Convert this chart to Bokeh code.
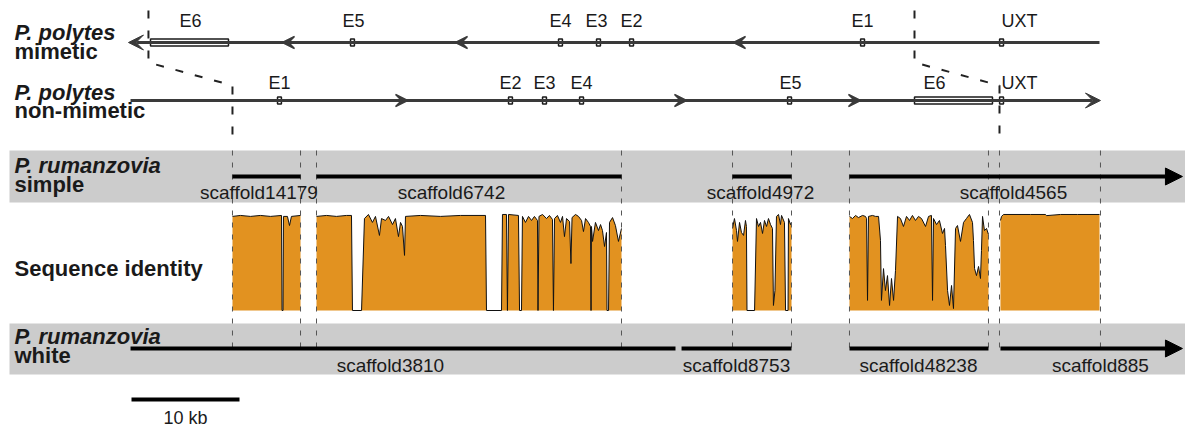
from bokeh.plotting import figure
from bokeh.models import Range1d, ColumnDataSource, Arrow, VeeHead, NormalHead
from bokeh.core.properties import value
from bokeh.embed import file_html
from bokeh.resources import INLINE

# ------------------------------------------------------------------
# DATA  (genomic positions in kb, identity in %)
# ------------------------------------------------------------------
scale_bar_kb = 10
scale_bar_label = "10 kb"

# P. polytes mimetic (reverse strand)
mim_names = ["E6", "E5", "E4", "E3", "E2", "E1", "UXT"]
mim_start = [1.76, 20.28, 39.54, 43.06, 46.12, 67.51, 80.38]
mim_end = [8.98, 20.64, 39.90, 43.42, 46.48, 67.87, 80.74]
mim_label_x = [5.46, 20.56, 39.72, 43.06, 46.30, 67.69, 82.22]
mim_line = [89.63, -0.28]          # from -> arrow tip
mim_strand_marks = [13.98, 30.00, 55.74]

# P. polytes non-mimetic (forward strand)
non_names = ["E1", "E2", "E3", "E4", "E5", "E6", "UXT"]
non_start = [13.52, 34.91, 38.06, 41.49, 60.75, 72.50, 80.38]
non_end = [13.88, 35.27, 38.42, 41.85, 61.11, 79.72, 80.74]
non_label_x = [13.70, 35.09, 38.24, 41.67, 61.02, 74.35, 82.22]
non_line = [-0.09, 89.72]
non_strand_marks = [25.56, 51.39, 67.50]

# inversion breakpoints linking the two P. polytes tracks
brk_left = [1.57, 1.57, 9.35, 9.35]
brk_right = [72.50, 72.50, 80.37, 80.37]

# alignment block boundaries
align_bounds = [9.35, 15.65, 17.13, 45.37, 55.65, 61.11, 66.48, 79.35, 80.37, 89.72]

# P. rumanzovia simple scaffolds
simple_names = ["scaffold14179", "scaffold6742", "scaffold4972", "scaffold4565"]
simple_start = [9.35, 17.13, 55.65, 66.48]
simple_end = [15.65, 45.37, 61.11, 97.31]
simple_label_x = [11.80, 29.63, 58.24, 81.67]
simple_arrow = [False, False, False, True]

# P. rumanzovia white scaffolds
white_names = ["scaffold3810", "scaffold8753", "scaffold48238", "scaffold885"]
white_start = [-0.09, 50.93, 66.48, 80.46]
white_end = [50.37, 61.11, 79.35, 97.31]
white_label_x = [23.98, 56.02, 72.87, 89.72]
white_arrow = [False, False, False, True]

# sequence identity profiles (one list per aligned region)
ident_pos_a = [9.35, 10.09, 11.02, 11.94, 12.87, 13.89, 13.94, 14.03, 14.07, 14.44, 14.63, 14.81, 15.65]
ident_val_a = [98.5, 99.0, 98.5, 99.0, 98.5, 99.0, 50, 50, 98.5, 98.5, 93.8, 98.5, 99.0]

ident_pos_b = [17.13, 18.06, 18.98, 19.91, 20.37, 20.46, 21.30, 21.57, 21.94, 22.31, 22.59, 22.96,
               23.15, 23.52, 23.80, 24.17, 24.44, 24.72, 24.91, 25.09, 25.28, 25.37, 26.76, 28.61,
               30.46, 32.78, 32.87, 34.26, 34.35, 34.72, 34.81, 34.91, 35.83, 35.93, 36.11, 36.20,
               36.48, 36.76, 37.04, 37.31, 37.59, 37.64, 37.73, 38.06, 38.43, 38.70, 38.98, 39.07,
               39.17, 39.44, 39.72, 39.91, 40.09, 40.28, 40.56, 40.69, 40.79, 41.11, 41.39, 41.67,
               41.85, 42.04, 42.31, 42.50, 42.55, 42.59, 42.69, 42.96, 43.24, 43.43, 43.61, 43.80,
               43.98, 44.03, 44.17, 44.26, 44.54, 44.81, 45.09, 45.37]
ident_val_b = [98.5, 99.0, 98.5, 99.0, 99.0, 50, 50, 97.4, 99.5, 95.4, 98.5, 88.7,
               97.4, 96.4, 98.5, 94.3, 97.4, 88.1, 95.4, 93.3, 78.4, 98.5, 99.0, 98.5,
               99.0, 99.0, 50, 50, 99.5, 99.5, 50, 99.5, 99.0, 50, 50, 98.5,
               95.4, 98.5, 96.4, 98.5, 96.4, 50, 98.5, 99.5, 97.4, 99.0, 96.9, 50,
               97.4, 99.0, 95.4, 98.5, 88.1, 97.4, 95.9, 74.2, 97.9, 99.5, 98.5, 96.4,
               90.7, 97.4, 95.4, 93.3, 50, 93.3, 85.6, 95.4, 91.2, 94.3, 91.2, 83.0,
               90.2, 50, 50, 95.4, 97.9, 93.8, 85.6, 92.3]

ident_pos_c = [55.65, 55.83, 56.02, 56.11, 56.30, 56.48, 56.67, 56.85, 56.94, 56.99, 57.69, 57.87,
               58.06, 58.24, 58.43, 58.61, 58.80, 58.98, 59.17, 59.35, 59.44, 59.58, 59.72, 59.91,
               60.09, 60.19, 60.46, 60.56, 60.79, 60.83, 61.02, 61.11]
ident_val_c = [92.3, 97.4, 91.2, 85.6, 95.4, 90.2, 88.7, 96.4, 93.3, 50, 50, 97.4,
               93.3, 95.4, 89.7, 96.4, 93.3, 97.4, 94.3, 92.3, 52.6, 60.3, 98.5, 99.5,
               94.3, 99.0, 95.4, 50, 50, 97.4, 94.3, 95.4]

ident_pos_d = [66.48, 66.76, 67.04, 67.31, 67.69, 67.96, 68.06, 68.15, 68.24, 68.61, 68.89, 69.17,
               69.35, 69.44, 69.63, 69.81, 70.00, 70.19, 70.37, 70.56, 70.74, 70.93, 71.20, 71.48,
               71.76, 72.04, 72.31, 72.59, 72.87, 73.15, 73.52, 73.80, 74.07, 74.17, 74.26, 74.54,
               74.81, 75.09, 75.28, 75.37, 75.56, 75.74, 75.93, 76.11, 76.30, 76.48, 76.76, 77.04,
               77.31, 77.59, 77.87, 77.96, 78.06, 78.24, 78.43, 78.61, 78.70, 78.80, 78.98, 79.17,
               79.35]
ident_val_d = [98.5, 97.4, 99.0, 97.9, 99.0, 98.5, 97.4, 55.2, 98.5, 99.0, 98.5, 98.5,
               86.1, 55.2, 71.6, 60.3, 68.0, 52.6, 66.5, 55.2, 70.6, 98.5, 97.4, 93.3,
               98.5, 96.4, 99.0, 96.4, 98.5, 97.4, 93.3, 98.5, 99.0, 55.2, 97.4, 94.3,
               96.4, 89.7, 92.3, 83.5, 60.3, 52.6, 62.9, 51.0, 92.3, 93.8, 85.6, 95.4,
               97.4, 99.5, 95.4, 86.1, 71.6, 68.0, 72.7, 66.5, 80.9, 98.5, 91.2, 92.3,
               89.2]

ident_pos_e = [80.46, 80.56, 80.74, 83.24, 84.63, 84.72, 86.02, 87.60, 89.63]
ident_val_e = [96.4, 98.5, 99.5, 99.5, 99.5, 98.9, 99.5, 99.5, 99.5]

ident_regions = [(ident_pos_a, ident_val_a), (ident_pos_b, ident_val_b), (ident_pos_c, ident_val_c),
                 (ident_pos_d, ident_val_d), (ident_pos_e, ident_val_e)]
ident_floor = 50
ident_top = 100

# ------------------------------------------------------------------
# LAYOUT / STYLE
# ------------------------------------------------------------------
W, H = 1185, 426
PX_PER_KB = 10.8
ORIGIN_PX = 131                      # canvas x of 0 kb
X0 = (0 - ORIGIN_PX) / PX_PER_KB
X1 = (W - ORIGIN_PX) / PX_PER_KB
TS = -6                              # text baseline correction (regular text)
TSB = -8                             # text baseline correction (bold row labels)

Y_MIM, Y_NON = 42, 100
Y_MIM_LAB, Y_NON_LAB = 26 + TS, 88 + TS
Y_BRK = [10, 62, 85, 140]
SIMPLE_BAND = (150, 202)
WHITE_BAND = (323, 374)
Y_SIMPLE_LINE, Y_SIMPLE_LAB = 176, 198 + TS
Y_WHITE_LINE, Y_WHITE_LAB = 348, 371 + TS
IDENT_Y_FLOOR, IDENT_Y_TOP = 310, 213
Y_SCALE, Y_SCALE_LAB = 399, 417

FONT = value("Liberation Sans")
TXT = "#1a1a1a"
GENE_COL = "#3a3a3a"
ORANGE = "#e29220"
BAND = "#cccccc"

p = figure(width=W, height=H, output_backend="svg", toolbar_location=None,
           x_range=Range1d(X0, X1), y_range=Range1d(H, 0),
           x_axis_location=None, y_axis_location=None,
           min_border=0, min_border_left=0, min_border_right=0,
           min_border_top=0, min_border_bottom=0)
p.grid.visible = False
p.outline_line_color = None
p.background_fill_color = "white"
p.border_fill_color = "white"

# identity range mapped onto canvas pixels
per_px = (ident_top - ident_floor) / (IDENT_Y_FLOOR - IDENT_Y_TOP)
id_lo = ident_floor - (H - IDENT_Y_FLOOR) * per_px
id_hi = ident_top + IDENT_Y_TOP * per_px
p.extra_y_ranges = {"ident": Range1d(id_lo, id_hi)}

band_left = (9 - ORIGIN_PX) / PX_PER_KB

# grey bands
p.quad(left=[band_left, band_left], right=[X1, X1],
       top=[SIMPLE_BAND[0], WHITE_BAND[0]], bottom=[SIMPLE_BAND[1], WHITE_BAND[1]],
       fill_color=BAND, line_color=None)

# identity fills and outlines
pxs, pys, lxs, lys = [], [], [], []
for pos, val in ident_regions:
    pxs.append([pos[0]] + list(pos) + [pos[-1]])
    pys.append([ident_floor] + list(val) + [ident_floor])
    lxs.append(list(pos))
    lys.append(list(val))
p.patches(pxs, pys, fill_color=ORANGE, line_color=None, y_range_name="ident")
p.multi_line(lxs, lys, line_color="#111111", line_width=1, y_range_name="ident")

# thin dashed block boundaries
p.segment(x0=align_bounds, y0=[SIMPLE_BAND[0]] * len(align_bounds),
          x1=align_bounds, y1=[Y_WHITE_LINE] * len(align_bounds),
          line_color="#555555", line_width=1, line_dash="5 7")

# breakpoint connectors
for bx in (brk_left, brk_right):
    p.line(bx, Y_BRK, line_color="#222222", line_width=2, line_dash="8 12")

# gene lines with direction
p.add_layout(Arrow(end=VeeHead(size=15, fill_color=GENE_COL, line_color=GENE_COL),
                   x_start=mim_line[0], y_start=Y_MIM, x_end=mim_line[1], y_end=Y_MIM,
                   line_color=GENE_COL, line_width=3))
p.add_layout(Arrow(end=VeeHead(size=15, fill_color=GENE_COL, line_color=GENE_COL),
                   x_start=non_line[0], y_start=Y_NON, x_end=non_line[1], y_end=Y_NON,
                   line_color=GENE_COL, line_width=3))
chev_src_m = ColumnDataSource(dict(x0=[m + 0.6 for m in mim_strand_marks], x1=mim_strand_marks,
                                   y=[Y_MIM] * len(mim_strand_marks)))
chev_src_n = ColumnDataSource(dict(x0=[m - 0.6 for m in non_strand_marks], x1=non_strand_marks,
                                   y=[Y_NON] * len(non_strand_marks)))
for src in (chev_src_m, chev_src_n):
    p.add_layout(Arrow(end=VeeHead(size=12, fill_color=GENE_COL, line_color=GENE_COL,
                                   line_width=1.5),
                       x_start="x0", y_start="y", x_end="x1", y_end="y", source=src,
                       line_alpha=0))

# exons
p.quad(left=mim_start, right=mim_end, top=[Y_MIM - 3.5] * 7, bottom=[Y_MIM + 3.5] * 7,
       fill_color="white", line_color="#1a1a1a", line_width=1.5)
p.quad(left=non_start, right=non_end, top=[Y_NON - 3.5] * 7, bottom=[Y_NON + 3.5] * 7,
       fill_color="white", line_color="#1a1a1a", line_width=1.5)
p.text(x=mim_label_x, y=[Y_MIM_LAB] * 7, text=mim_names, text_font=FONT, text_font_size="18px",
       text_align="center", text_baseline="alphabetic", text_color=TXT)
p.text(x=non_label_x, y=[Y_NON_LAB] * 7, text=non_names, text_font=FONT, text_font_size="18px",
       text_align="center", text_baseline="alphabetic", text_color=TXT)

# scaffolds
def draw_scaffolds(starts, ends, arrows, names, label_x, y_line, y_lab):
    seg_x0 = [s for s, a in zip(starts, arrows) if not a]
    seg_x1 = [e for e, a in zip(ends, arrows) if not a]
    p.segment(x0=seg_x0, y0=[y_line] * len(seg_x0), x1=seg_x1, y1=[y_line] * len(seg_x1),
              line_color="black", line_width=4)
    for s, e, a in zip(starts, ends, arrows):
        if a:
            p.add_layout(Arrow(end=NormalHead(size=17, fill_color="black", line_color="black"),
                               x_start=s, y_start=y_line, x_end=e, y_end=y_line,
                               line_color="black", line_width=4))
    p.text(x=label_x, y=[y_lab] * len(names), text=names, text_font=FONT,
           text_font_size="19px", text_align="center", text_baseline="alphabetic",
           text_color=TXT)

draw_scaffolds(simple_start, simple_end, simple_arrow, simple_names, simple_label_x,
               Y_SIMPLE_LINE, Y_SIMPLE_LAB)
draw_scaffolds(white_start, white_end, white_arrow, white_names, white_label_x,
               Y_WHITE_LINE, Y_WHITE_LAB)

# row labels
LAB_X = (14 - ORIGIN_PX) / PX_PER_KB
p.text(x=[LAB_X] * 4, y=[40 + TSB, 100 + TSB, 173 + TSB, 344 + TSB],
       text=["P. polytes", "P. polytes", "P. rumanzovia", "P. rumanzovia"],
       text_font=FONT, text_font_size="22px", text_font_style="bold italic",
       text_align="left", text_baseline="alphabetic", text_color=TXT)
p.text(x=[LAB_X] * 5, y=[59 + TSB, 118 + TSB, 192 + TSB, 276 + TSB, 363 + TSB],
       text=["mimetic", "non-mimetic", "simple", "Sequence identity", "white"],
       text_font=FONT, text_font_size="22px", text_font_style="bold",
       text_align="left", text_baseline="alphabetic", text_color=TXT)

# scale bar
p.segment(x0=[0], y0=[Y_SCALE], x1=[scale_bar_kb], y1=[Y_SCALE], line_color="black", line_width=4)
p.text(x=[scale_bar_kb / 2], y=[Y_SCALE_LAB], text=[scale_bar_label], text_font=FONT,
       text_font_size="18px", text_align="center", text_baseline="alphabetic", text_color=TXT)

open("out.html", "w").write(file_html(p, INLINE))
